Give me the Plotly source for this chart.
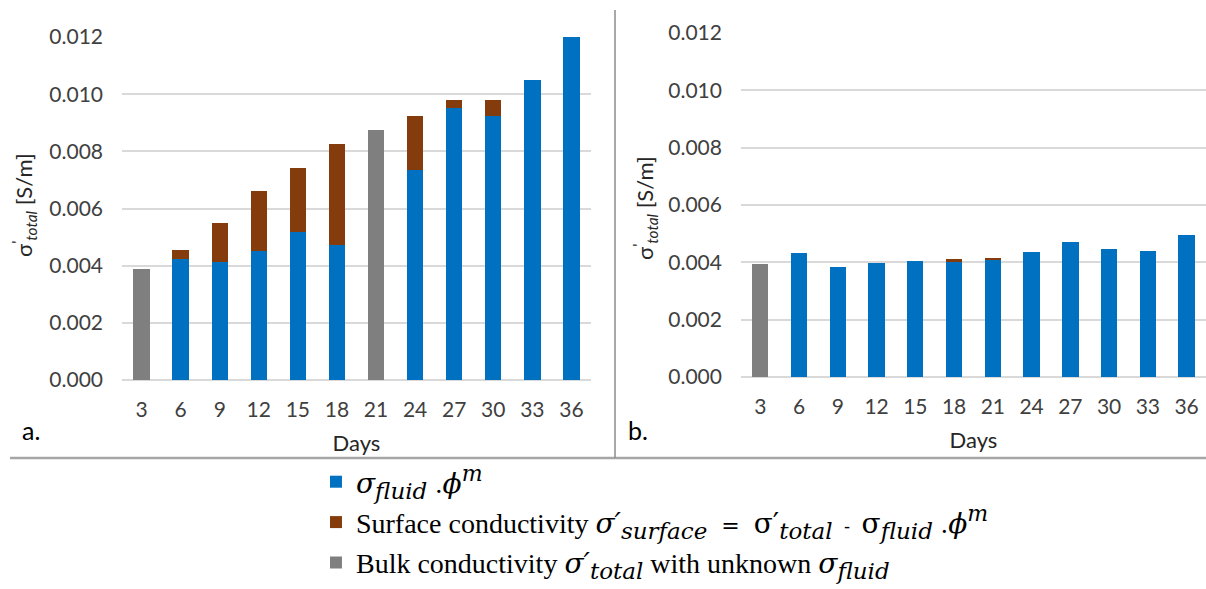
import plotly.graph_objects as go

days = ["3", "6", "9", "12", "15", "18", "21", "24", "27", "30", "33", "36"]

# Panel a
a_fluid = [None, 0.00422, 0.00413, 0.00451, 0.00519, 0.00472, None, 0.00734, 0.00953, 0.00925, 0.01051, 0.01200]
a_surface = [None, 0.00033, 0.00138, 0.00209, 0.00221, 0.00352, None, 0.00189, 0.00026, 0.00054, None, None]
a_bulk = [0.00390, None, None, None, None, None, 0.00873, None, None, None, None, None]

# Panel b
b_fluid = [None, 0.00432, 0.00383, 0.00397, 0.00406, 0.00400, 0.00410, 0.00435, 0.00471, 0.00447, 0.00438, 0.00495]
b_surface = [None, None, None, None, None, 0.00011, 0.00004, None, None, None, None, None]
b_bulk = [0.00394, None, None, None, None, None, None, None, None, None, None, None]


def m(s, size=28, italic=True):
    body = f"<i>{s}</i>" if italic else s
    return f'<span style="font-family:DejaVu Serif;font-size:{size}px">{body}</span>'


def sb(s):
    return f'<sub><span style="font-family:DejaVu Serif;font-size:23px"><i>{s}</i></span></sub>'


def sp(s):
    return f'<sup><span style="font-family:DejaVu Serif;font-size:22px"><i>{s}</i></span></sup>'


def fluid_phi(italic=True):
    return m("σ", italic=italic) + sb("fluid") + m(" .", 24, False) + m("ϕ") + sp("m")


names = [
    fluid_phi(),
    "Surface conductivity " + m("σ′") + sb("surface") + m("  =  ", 22, False) + m("σ′", italic=False)
    + sb("total") + m("  -  ", 18, False) + fluid_phi(False),
    "Bulk conductivity " + m("σ′") + sb("total") + " with unknown " + m("σ") + sb("fluid"),
]
colors = ["#0070C0", "#843C0C", "#7F7F7F"]

fig = go.Figure()

panels = [
    ("x", "y", [a_fluid, a_surface, a_bulk], True),
    ("x2", "y2", [b_fluid, b_surface, b_bulk], False),
]
for xa, ya, series, show in panels:
    for i, vals in enumerate(series):
        fig.add_trace(go.Bar(
            x=days, y=vals, name=names[i], xaxis=xa, yaxis=ya,
            marker=dict(color=colors[i], line=dict(width=0)),
            legendgroup=f"g{i}", showlegend=show,
        ))

tick_font = dict(family="Lato", size=21, color="#404040")
title_font = dict(family="Lato", size=22, color="#262626")

yt = "σ<sup>'</sup><sub><i>total</i></sub> [S/m]"

common_x = dict(type="category", showgrid=False, showline=False, ticks="",
                tickangle=0, automargin=False,
                tickfont=tick_font, ticklabelstandoff=15,
                title=dict(text="Days", font=title_font, standoff=15))
common_y = dict(range=[0, 0.012], dtick=0.002, tickformat=".3f", automargin=False,
                showgrid=True, gridcolor="#D9D9D9", gridwidth=1.5,
                zeroline=True, zerolinecolor="#D9D9D9", zerolinewidth=1.5,
                showline=False, ticks="", tickfont=tick_font, ticklabelstandoff=18)

fig.update_layout(
    width=1206, height=589,
    margin=dict(l=0, r=0, t=0, b=0, autoexpand=False),
    paper_bgcolor="white", plot_bgcolor="white",
    barmode="stack", bargap=0.58,
    xaxis=dict(domain=[0.1012, 0.4900], anchor="y", **common_x),
    yaxis=dict(domain=[0.3548, 0.9372], anchor="x", **common_y),
    xaxis2=dict(domain=[0.6144, 1.0], anchor="y2", **common_x),
    yaxis2=dict(domain=[0.3599, 0.9440], anchor="x2", **common_y),
    legend=dict(
        x=0.262, y=1 - 457 / 589,
        xanchor="left", yanchor="top",
        font=dict(family="Liberation Serif", size=28, color="#000000"),
        tracegroupgap=1, bgcolor="rgba(0,0,0,0)",
    ),
    showlegend=True,
)

# y-axis titles
for xp, yp in [(24, 205), (645, 208)]:
    fig.add_annotation(text=yt, xref="paper", yref="paper", x=xp / 1206, y=1 - yp / 589,
                       xanchor="center", yanchor="middle", textangle=-90,
                       showarrow=False, font=title_font)

# panel labels
fig.add_annotation(text="a.", xref="paper", yref="paper", x=31 / 1206, y=1 - 430 / 589,
                   xanchor="center", yanchor="middle",
                   showarrow=False, font=dict(family="Lato", size=25, color="#000"))
fig.add_annotation(text="b.", xref="paper", yref="paper", x=638 / 1206, y=1 - 430 / 589,
                   xanchor="center", yanchor="middle",
                   showarrow=False, font=dict(family="Lato", size=25, color="#000"))

# separator lines
fig.add_shape(type="line", xref="paper", yref="paper", x0=10 / 1206, x1=1.0,
              y0=1 - 458 / 589, y1=1 - 458 / 589, line=dict(color="#A6A6A6", width=2.5))
fig.add_shape(type="line", xref="paper", yref="paper", x0=615 / 1206, x1=615 / 1206,
              y0=1 - 458 / 589, y1=1 - 10 / 589, line=dict(color="#8C8C8C", width=1.5))

fig.write_html("out.html")
